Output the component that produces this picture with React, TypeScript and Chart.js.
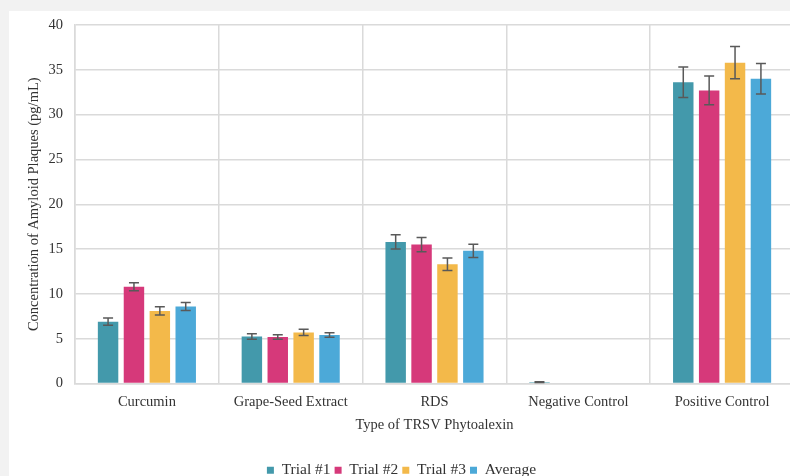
import React, { useEffect, useRef } from "react";
import { Chart, registerables } from "chart.js";

Chart.register(...registerables);

const categories = ["Curcumin", "Grape-Seed Extract", "RDS", "Negative Control", "Positive Control"];
const trial1 = [6.9, 5.25, 15.8, 0.15, 33.6];
const trial1Err = [0.4, 0.3, 0.8, 0.05, 1.7];
const trial2 = [10.8, 5.2, 15.5, 0, 32.7];
const trial2Err = [0.45, 0.25, 0.8, 0, 1.6];
const trial3 = [8.1, 5.7, 13.3, 0, 35.8];
const trial3Err = [0.45, 0.35, 0.7, 0, 1.8];
const average = [8.6, 5.4, 14.8, 0, 34.0];
const averageErr = [0.45, 0.25, 0.75, 0, 1.7];

const FONT = "'Liberation Serif', 'Times New Roman', serif";
const TEXT = "#333333";
const GRID = "#dadada";

// Draws symmetric error bars on top of each bar
const errorBarPlugin = {
  id: "errorBars",
  afterDatasetsDraw(chart: any) {
    const ctx = chart.ctx;
    const yScale = chart.scales.y;
    chart.data.datasets.forEach((ds: any, di: number) => {
      const errs: number[] = ds.errors || [];
      const meta = chart.getDatasetMeta(di);
      meta.data.forEach((bar: any, i: number) => {
        const e = errs[i];
        if (!e) return;
        const v = ds.data[i];
        const yTop = yScale.getPixelForValue(v + e);
        const yBot = yScale.getPixelForValue(v - e);
        const x = bar.x;
        const cap = 5;
        ctx.save();
        ctx.strokeStyle = "#595959";
        ctx.lineWidth = 1.5;
        ctx.beginPath();
        ctx.moveTo(x, yTop);
        ctx.lineTo(x, yBot);
        ctx.moveTo(x - cap, yTop);
        ctx.lineTo(x + cap, yTop);
        ctx.moveTo(x - cap, yBot);
        ctx.lineTo(x + cap, yBot);
        ctx.stroke();
        ctx.restore();
      });
    });
  },
};

export default function App() {
  const ref = useRef<HTMLCanvasElement | null>(null);

  useEffect(() => {
    if (!ref.current) return;
    const chart = new Chart(ref.current, {
      type: "bar",
      data: {
        labels: categories,
        datasets: [
          { label: "Trial #1", data: trial1, errors: trial1Err, backgroundColor: "#4399ab" } as any,
          { label: "Trial #2", data: trial2, errors: trial2Err, backgroundColor: "#d6397a" } as any,
          { label: "Trial #3", data: trial3, errors: trial3Err, backgroundColor: "#f3b94a" } as any,
          { label: "Average", data: average, errors: averageErr, backgroundColor: "#4ca9d8" } as any,
        ],
      },
      plugins: [errorBarPlugin],
      options: {
        responsive: false,
        animation: false,
        datasets: { bar: { categoryPercentage: 0.72, barPercentage: 0.79 } },
        layout: { padding: { top: 14, right: 17, left: 0, bottom: 0 } },
        plugins: {
          tooltip: { enabled: false },
          legend: {
            position: "bottom",
            labels: {
              boxWidth: 7,
              boxHeight: 7,
              padding: 4,
              color: TEXT,
              font: { family: FONT, size: 15.5 },
            },
          },
        },
        scales: {
          x: {
            grid: { color: GRID, lineWidth: 1.5, drawTicks: false },
            border: { color: GRID, width: 1.5 },
            ticks: { color: TEXT, padding: 10, font: { family: FONT, size: 14.5 } },
            title: {
              display: true,
              text: "Type of TRSV Phytoalexin",
              color: TEXT,
              font: { family: FONT, size: 14.5 },
              padding: { top: 0, bottom: 25 },
            },
            afterFit: (axis: any) => {
              axis.height = 75;
            },
          },
          y: {
            min: 0,
            max: 40,
            grid: {
              color: GRID,
              lineWidth: 1.5,
              drawTicks: true,
              tickLength: 12,
              tickColor: "rgba(0,0,0,0)",
            },
            border: { color: GRID, width: 1.5 },
            ticks: { stepSize: 5, color: TEXT, padding: 0, font: { family: FONT, size: 14.5 } },
            title: {
              display: true,
              text: "Concentration of Amyloid Plaques (pg/mL)",
              color: TEXT,
              font: { family: FONT, size: 14.5 },
              padding: { top: 16, bottom: 0 },
            },
            afterFit: (axis: any) => {
              axis.width = 66;
            },
          },
        },
      } as any,
    });
    return () => chart.destroy();
  }, []);

  return (
    <div
      style={{
        position: "fixed",
        left: 0,
        top: 0,
        width: 790,
        height: 476,
        overflow: "hidden",
        background: "#f2f2f2",
      }}
    >
      <div
        style={{
          position: "absolute",
          left: 9,
          top: 11,
          width: 802,
          height: 477,
          background: "#ffffff",
        }}
      >
        <canvas ref={ref} width={802} height={477} style={{ display: "block" }} />
      </div>
    </div>
  );
}
